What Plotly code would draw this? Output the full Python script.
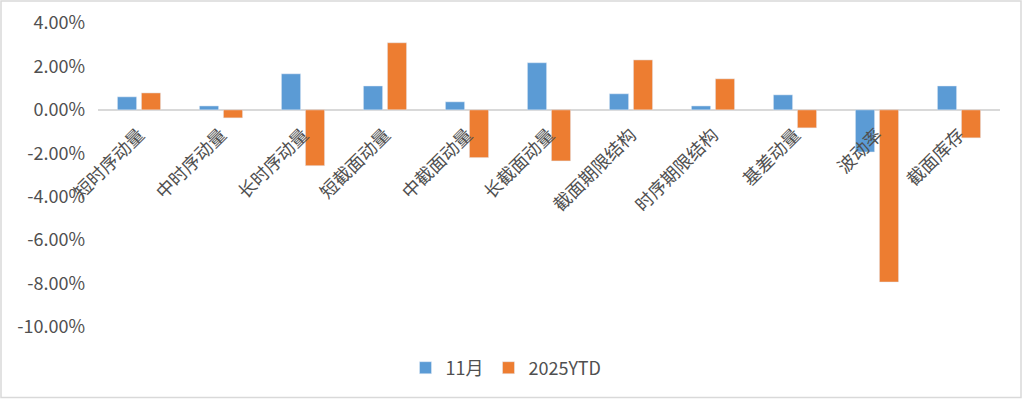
import plotly.graph_objects as go

categories = ["短时序动量", "中时序动量", "长时序动量", "短截面动量", "中截面动量", "长截面动量",
              "截面期限结构", "时序期限结构", "基差动量", "波动率", "截面库存"]
nov_values = [0.0060, 0.0018, 0.0166, 0.0110, 0.0037, 0.0217, 0.0074, 0.0018, 0.0069, -0.0194, 0.0110]
ytd_values = [0.0078, -0.0037, -0.0257, 0.0309, -0.0220, -0.0235, 0.0230, 0.0143, -0.0083, -0.0793, -0.0129]
series_names = ["11月", "2025YTD"]
y_tickvals = [0.04, 0.02, 0.0, -0.02, -0.04, -0.06, -0.08, -0.10]
y_ticktext = ["4.00%", "2.00%", "0.00%", "-2.00%", "-4.00%", "-6.00%", "-8.00%", "-10.00%"]

FONT = "Noto Sans CJK SC, Microsoft YaHei, sans-serif"
TXT = "#505050"
FS = 18

fig = go.Figure()
fig.add_trace(go.Bar(x=categories, y=nov_values, name=series_names[0], marker_color="#5B9BD5"))
fig.add_trace(go.Bar(x=categories, y=ytd_values, name=series_names[1], marker_color="#ED7D31"))

ymin, ymax = -0.10, 0.04
W, H = 1022, 399
ml, mr, mt, mb = 98, 22, 23, 72
pw, ph = W - ml - mr, H - mt - mb

fig.update_layout(
    width=W, height=H,
    margin=dict(l=ml, r=mr, t=mt, b=mb, autoexpand=False),
    paper_bgcolor="white", plot_bgcolor="white",
    font=dict(family=FONT, size=FS, color=TXT),
    barmode="group", bargap=0.415, bargroupgap=0.2,
    showlegend=True,
    legend=dict(orientation="h", x=(506 - ml) / pw, xanchor="center", y=(327 - 368) / ph, yanchor="middle",
                font=dict(size=FS, color=TXT), itemwidth=30, tracegroupgap=0),
    xaxis=dict(anchor="free", position=(0 - ymin) / (ymax - ymin), showline=False,
               showgrid=False, tickangle=-45, ticks="", tickfont=dict(size=FS, color=TXT),
               ticklabelstandoff=10, zeroline=False, automargin=False),
    yaxis=dict(range=[ymin, ymax], tickvals=y_tickvals, ticktext=y_ticktext, showgrid=False,
               zeroline=True, zerolinecolor="#D9D9D9", zerolinewidth=2, showline=False,
               ticks="", ticklabelstandoff=12, tickfont=dict(size=FS, color=TXT), automargin=False),
    shapes=[dict(type="rect", xref="paper", yref="paper",
                 x0=(1 - ml) / pw, x1=(1021 - ml) / pw,
                 y0=(H - mb - 397.5) / ph, y1=(H - mb - 1) / ph,
                 line=dict(color="#D9D9D9", width=1.5), fillcolor="rgba(0,0,0,0)", layer="below")],
)

fig.write_html("out.html", config={"displayModeBar": False},
               post_script="document.body.style.margin='0';document.body.style.overflow='hidden';")
